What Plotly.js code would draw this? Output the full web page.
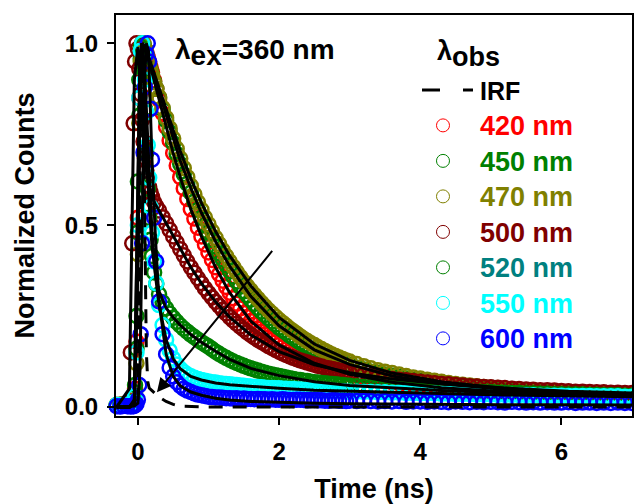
<!DOCTYPE html>
<html>
<head>
<meta charset="utf-8">
<script src="https://cdn.plot.ly/plotly-3.0.1.min.js"></script>
<style>html,body{margin:0;padding:0;background:#fff;}#chart{width:634px;height:504px;}</style>
</head>
<body>
<div id="chart"></div>
<script>
// ---- measured decay data (time in ns, normalized counts) ----
const time = [-0.30,-0.25,-0.20,-0.15,-0.10,-0.08,-0.06,-0.04,-0.02,0.00,
  0.02,0.04,0.06,0.08,0.10,0.12,0.14,0.16,0.18,0.20,
  0.23,0.26,0.30,0.35,0.40,0.45,0.50,0.55,0.60,0.65,
  0.70,0.75,0.80,0.85,0.90,0.95,1.00,
  1.05,1.10,1.15,1.20,1.25,1.30,1.35,1.40,1.45,1.50,
  1.55,1.60,1.65,1.70,1.75,1.80,1.85,1.90,1.95,2.00,
  2.05,2.10,2.15,2.20,2.25,2.30,2.35,2.40,2.45,2.50,
  2.55,2.60,2.65,2.70,2.75,2.80,2.85,2.90,2.95,3.00,
  3.1,3.2,3.3,3.4,3.5,3.6,3.7,3.8,3.9,4.0,
  4.1,4.2,4.3,4.4,4.5,4.6,4.7,4.8,4.9,5.0,
  5.1,5.2,5.3,5.4,5.5,5.6,5.7,5.8,5.9,6.0,
  6.1,6.2,6.3,6.4,6.5,6.6,6.7,6.8,6.9,7.0];

const counts420 = [0.005,0.004,0.006,0.004,0.005,0.008,0.015,0.050,0.180,0.520,
  0.850,0.975,1.000,0.993,0.985,0.974,0.962,0.948,0.934,0.920,
  0.898,0.875,0.845,0.808,0.770,0.733,0.698,0.664,0.632,0.601,
  0.572,0.544,0.518,0.493,0.469,0.447,0.425,
  0.404,0.384,0.365,0.347,0.330,0.314,0.299,0.284,0.271,0.258,
  0.247,0.236,0.226,0.216,0.207,0.199,0.191,0.184,0.177,0.170,
  0.164,0.158,0.152,0.147,0.142,0.137,0.132,0.128,0.124,0.120,
  0.116,0.113,0.109,0.106,0.103,0.100,0.097,0.095,0.092,0.090,
  0.085,0.081,0.077,0.074,0.071,0.068,0.065,0.063,0.060,0.058,
  0.056,0.054,0.053,0.051,0.050,0.048,0.047,0.046,0.045,0.044,
  0.043,0.042,0.041,0.040,0.039,0.039,0.038,0.037,0.037,0.036,
  0.035,0.035,0.034,0.034,0.033,0.033,0.032,0.032,0.031,0.031];

const counts450 = [0.004,0.006,0.005,0.004,0.006,0.007,0.013,0.040,0.160,0.480,
  0.801,0.958,0.997,0.998,0.985,0.971,0.957,0.942,0.928,0.914,
  0.895,0.875,0.850,0.819,0.788,0.756,0.726,0.696,0.668,0.640,
  0.614,0.589,0.565,0.542,0.520,0.499,0.479,
  0.459,0.441,0.423,0.406,0.390,0.374,0.359,0.345,0.331,0.318,
  0.307,0.295,0.283,0.273,0.262,0.253,0.244,0.235,0.227,0.218,
  0.211,0.204,0.196,0.190,0.183,0.177,0.171,0.165,0.160,0.155,
  0.150,0.145,0.141,0.136,0.132,0.128,0.124,0.121,0.117,0.115,
  0.108,0.103,0.097,0.093,0.089,0.086,0.082,0.078,0.075,0.072,
  0.069,0.067,0.064,0.062,0.059,0.057,0.055,0.054,0.052,0.050,
  0.049,0.048,0.047,0.045,0.044,0.043,0.042,0.041,0.040,0.040,
  0.039,0.039,0.038,0.037,0.037,0.036,0.036,0.035,0.035,0.034];

const counts470 = [0.004,0.006,0.003,0.005,0.004,0.006,0.010,0.030,0.120,0.420,
  0.780,0.950,0.995,1.000,0.985,0.970,0.955,0.940,0.925,0.912,
  0.893,0.875,0.852,0.823,0.795,0.766,0.738,0.710,0.683,0.657,
  0.632,0.608,0.585,0.563,0.542,0.521,0.502,
  0.483,0.465,0.448,0.431,0.415,0.400,0.385,0.371,0.357,0.344,
  0.332,0.320,0.308,0.297,0.286,0.276,0.266,0.257,0.248,0.239,
  0.231,0.223,0.215,0.208,0.201,0.194,0.187,0.181,0.175,0.170,
  0.164,0.159,0.154,0.149,0.144,0.140,0.136,0.132,0.128,0.125,
  0.118,0.112,0.106,0.101,0.097,0.093,0.089,0.085,0.081,0.078,
  0.075,0.072,0.069,0.066,0.063,0.061,0.059,0.057,0.055,0.053,
  0.052,0.050,0.049,0.047,0.046,0.045,0.044,0.043,0.042,0.041,
  0.040,0.040,0.039,0.038,0.038,0.037,0.037,0.036,0.036,0.035];

const counts500 = [0.004,0.005,0.006,0.012,0.150,0.450,0.780,0.950,1.000,0.985,
  0.930,0.860,0.790,0.730,0.685,0.650,0.625,0.605,0.590,0.578,
  0.563,0.552,0.540,0.522,0.505,0.487,0.469,0.452,0.434,0.417,
  0.400,0.384,0.369,0.354,0.340,0.326,0.313,
  0.301,0.289,0.278,0.267,0.257,0.247,0.238,0.229,0.221,0.213,
  0.205,0.198,0.191,0.185,0.179,0.173,0.167,0.162,0.157,0.152,
  0.147,0.143,0.139,0.135,0.131,0.128,0.125,0.122,0.119,0.116,
  0.113,0.111,0.108,0.106,0.104,0.102,0.100,0.098,0.096,0.094,
  0.091,0.088,0.085,0.082,0.080,0.077,0.075,0.073,0.071,0.069,
  0.067,0.065,0.063,0.062,0.060,0.059,0.057,0.056,0.055,0.054,
  0.053,0.052,0.050,0.049,0.048,0.047,0.046,0.046,0.045,0.044,
  0.043,0.042,0.042,0.041,0.040,0.040,0.039,0.039,0.038,0.038];

const counts520 = [0.005,0.004,0.006,0.005,0.006,0.008,0.015,0.060,0.250,0.620,
  0.900,0.990,1.000,0.930,0.820,0.700,0.600,0.520,0.460,0.415,
  0.370,0.338,0.310,0.288,0.271,0.257,0.245,0.234,0.224,0.215,
  0.207,0.199,0.192,0.185,0.178,0.172,0.166,
  0.159,0.152,0.146,0.140,0.135,0.130,0.125,0.121,0.117,0.113,
  0.109,0.106,0.103,0.100,0.097,0.094,0.091,0.089,0.087,0.085,
  0.083,0.081,0.079,0.077,0.075,0.074,0.072,0.071,0.069,0.068,
  0.067,0.066,0.065,0.064,0.063,0.062,0.061,0.060,0.059,0.058,
  0.057,0.055,0.054,0.053,0.052,0.051,0.050,0.049,0.048,0.047,
  0.046,0.045,0.044,0.044,0.043,0.042,0.042,0.041,0.040,0.040,
  0.039,0.039,0.038,0.038,0.037,0.037,0.036,0.036,0.035,0.035,
  0.034,0.034,0.034,0.033,0.033,0.032,0.032,0.032,0.031,0.031];

const counts550 = [0.005,0.004,0.005,0.006,0.005,0.007,0.012,0.030,0.150,0.500,
  0.850,0.980,1.000,0.970,0.900,0.810,0.720,0.630,0.550,0.480,
  0.400,0.340,0.280,0.225,0.185,0.155,0.133,0.117,0.105,0.096,
  0.089,0.084,0.080,0.077,0.074,0.072,0.070,
  0.068,0.067,0.065,0.064,0.063,0.062,0.061,0.060,0.059,0.058,
  0.057,0.056,0.055,0.055,0.054,0.053,0.052,0.052,0.051,0.051,
  0.050,0.050,0.049,0.049,0.048,0.048,0.047,0.047,0.046,0.046,
  0.045,0.045,0.045,0.044,0.044,0.044,0.043,0.043,0.042,0.042,
  0.042,0.041,0.041,0.040,0.040,0.039,0.039,0.038,0.038,0.037,
  0.037,0.037,0.036,0.036,0.035,0.035,0.035,0.034,0.034,0.034,
  0.033,0.033,0.033,0.032,0.032,0.032,0.031,0.031,0.031,0.031,
  0.030,0.030,0.030,0.030,0.029,0.029,0.029,0.029,0.028,0.028];

const counts600 = [0.002,0.001,0.003,0.002,0.001,0.003,0.002,0.004,0.008,0.020,
  0.060,0.200,0.450,0.700,0.880,0.970,1.000,0.950,0.820,0.680,
  0.520,0.400,0.290,0.200,0.145,0.108,0.084,0.068,0.058,0.050,
  0.045,0.041,0.037,0.034,0.032,0.030,0.028,
  0.027,0.026,0.026,0.025,0.024,0.024,0.023,0.024,0.022,0.023,
  0.022,0.022,0.021,0.022,0.021,0.021,0.020,0.021,0.020,0.020,
  0.021,0.020,0.019,0.019,0.020,0.020,0.019,0.018,0.019,0.019,
  0.018,0.018,0.017,0.017,0.018,0.018,0.017,0.017,0.016,0.017,
  0.016,0.017,0.016,0.015,0.016,0.015,0.016,0.014,0.015,0.015,
  0.014,0.015,0.014,0.013,0.015,0.014,0.013,0.014,0.013,0.014,
  0.013,0.012,0.014,0.013,0.012,0.013,0.012,0.013,0.012,0.012,
  0.013,0.011,0.012,0.012,0.011,0.012,0.011,0.012,0.011,0.011];

// ---- fitted decay curves ----
const fitTime = [-0.30,-0.12,-0.05,0.00,0.03,0.06,0.09,0.12,0.15,0.20,0.25,0.30,0.40,0.50,
  0.60,0.75,0.90,1.10,1.30,1.60,2.00,2.50,3.00,3.60,4.30,5.20,6.10,7.00];
const fit420 = [0,0,0.01,0.45,0.93,1.00,0.99,0.974,0.955,0.920,0.882,0.845,0.770,0.698,
  0.632,0.544,0.469,0.384,0.314,0.236,0.170,0.120,0.090,0.068,0.053,0.042,0.035,0.031];
const fit450 = [0,0,0.01,0.40,0.91,1.00,0.99,0.975,0.958,0.930,0.900,0.870,0.804,0.740,
  0.677,0.602,0.534,0.455,0.387,0.304,0.223,0.157,0.117,0.085,0.064,0.048,0.039,0.034];
const fit470 = [0,0,0.01,0.38,0.90,1.00,0.993,0.980,0.964,0.936,0.907,0.878,0.817,0.758,
  0.703,0.628,0.561,0.483,0.416,0.333,0.246,0.173,0.128,0.093,0.069,0.051,0.041,0.035];
const fit500 = [0,0.05,0.90,0.99,0.90,0.79,0.705,0.650,0.615,0.578,0.556,0.540,0.505,0.469,
  0.434,0.384,0.340,0.289,0.247,0.198,0.152,0.116,0.094,0.077,0.064,0.052,0.043,0.038];
const fit520 = [0,0,0.02,0.55,0.95,1.00,0.88,0.72,0.59,0.44,0.365,0.318,0.272,0.246,
  0.225,0.199,0.178,0.153,0.131,0.106,0.086,0.069,0.059,0.052,0.045,0.039,0.035,0.031];
const fit550 = [0,0,0.01,0.62,0.97,1.00,0.94,0.82,0.70,0.48,0.36,0.28,0.185,0.133,
  0.105,0.084,0.074,0.066,0.061,0.056,0.051,0.046,0.043,0.040,0.037,0.033,0.031,0.028];
const fit600 = [0,0,0.003,0.01,0.10,0.50,0.88,1.00,0.98,0.68,0.46,0.29,0.145,0.084,
  0.058,0.041,0.032,0.024,0.019,0.015,0.012,0.010,0.009,0.008,0.007,0.006,0.006,0.005];

// ---- instrument response function ----
const irfTime = [-0.30,-0.05,0.00,0.02,0.04,0.06,0.08,0.10,0.12,0.14,0.16,0.20,0.25,0.30,
  0.40,0.50,0.60,0.80,1.0,2.0,3.0,4.0,5.0,6.0,7.0];
const irfCounts = [0,0,0.02,0.30,0.85,1.00,0.80,0.40,0.15,0.07,0.052,0.045,0.036,0.027,
  0.015,0.007,0.002,0,0,0,0,0,0,0,0];

const seriesNames = ['420 nm','450 nm','470 nm','500 nm','520 nm','550 nm','600 nm'];
const markerColors = ['#ff0000','#008000','#808000','#800000','#008000','#00ffff','#0000ff'];
const labelColors  = ['#ff0000','#008000','#808000','#800000','#008080','#00ffff','#0000ff'];
const seriesCounts = [counts420,counts450,counts470,counts500,counts520,counts550,counts600];
const seriesFits   = [fit420,fit450,fit470,fit500,fit520,fit550,fit600];

const FONT = 'Liberation Sans, Arial, sans-serif';
const traces = [];
seriesNames.forEach((n,i)=>{
  traces.push({
    type:'scatter', mode:'markers', x: time, y: seriesCounts[i], showlegend:false,
    cliponaxis:false,
    marker:{symbol:'circle-open', size:14, color:markerColors[i], line:{width:2.5, color:markerColors[i]}}
  });
});
traces.push({type:'scatter', mode:'lines', x: irfTime, y: irfCounts, showlegend:false,
  cliponaxis:false, line:{color:'#000', width:3, dash:'14px,10px'}});
seriesFits.forEach((f)=>{
  traces.push({type:'scatter', mode:'lines', x: fitTime, y: f, showlegend:false,
    cliponaxis:false, line:{color:'#000', width:3}});
});
// legend entries (symbol samples only, no data)
traces.push({type:'scatter', mode:'lines', x:[null], y:[null], name:'IRF', legendrank:1,
  line:{color:'#000', width:3, dash:'0px,11px,18px,23px,10px,10px'}});
seriesNames.forEach((n,i)=>{
  traces.push({type:'scatter', mode:'markers', x:[null], y:[null], legendrank:i+2,
    name:'<span style="color:'+labelColors[i]+';font-size:27px">'+n+'</span>',
    marker:{symbol:'circle-open', size:13, color:markerColors[i], line:{width:1, color:markerColors[i]}}});
});

const layout = {
  width:634, height:504,
  margin:{l:116, r:2, t:15, b:88, pad:0},
  paper_bgcolor:'#fff', plot_bgcolor:'#fff',
  font:{family:FONT, weight:'bold', color:'#000'},
  showlegend:true,
  legend:{x:0.562, y:0.870, xanchor:'left', yanchor:'top', bgcolor:'rgba(0,0,0,0)',
    itemwidth:64, font:{family:FONT, size:25, weight:'bold', color:'#000'}, traceorder:'normal'},
  xaxis:{range:[-0.31,7.0], tickvals:[0,2,4,6], ticks:'outside', ticklen:7, tickwidth:2,
    tickcolor:'#000', showline:true, linewidth:2, linecolor:'#000', mirror:true,
    showgrid:false, zeroline:false, ticklabelstandoff:6,
    tickfont:{family:FONT, size:24, weight:'bold'},
    title:{text:'Time (ns)', standoff:18, font:{family:FONT, size:27, weight:'bold'}}},
  yaxis:{range:[-0.025,1.078], tickvals:[0,0.5,1.0], tickformat:'.1f', ticks:'outside',
    ticklen:7, tickwidth:2, tickcolor:'#000', showline:true, linewidth:2, linecolor:'#000',
    mirror:true, showgrid:false, zeroline:false, ticklabelstandoff:4,
    tickfont:{family:FONT, size:24, weight:'bold'},
    title:{text:'Normalized Counts', standoff:22, font:{family:FONT, size:27, weight:'bold'}}},
  annotations:[
    {xref:'paper', yref:'paper', x:0.1105, y:0.9077, xanchor:'left', yanchor:'middle', showarrow:false,
     text:'λ<sub><span style="font-size:28px">ex</span></sub>=360 nm', font:{family:FONT, size:28, weight:'bold'}},
    {xref:'paper', yref:'paper', x:0.618, y:0.903, xanchor:'left', yanchor:'middle', showarrow:false,
     text:'λ<sub><span style="font-size:27px">obs</span></sub>', font:{family:FONT, size:27, weight:'bold'}},
    {x:0.27, y:0.04, xref:'x', yref:'y', ax:1.92, ay:0.433, axref:'x', ayref:'y', text:'',
     showarrow:true, arrowhead:2, arrowsize:1.4, arrowwidth:2, arrowcolor:'#000', standoff:0}
  ]
};
Plotly.newPlot('chart', traces, layout, {displayModeBar:false, staticPlot:true});
</script>
</body>
</html>
